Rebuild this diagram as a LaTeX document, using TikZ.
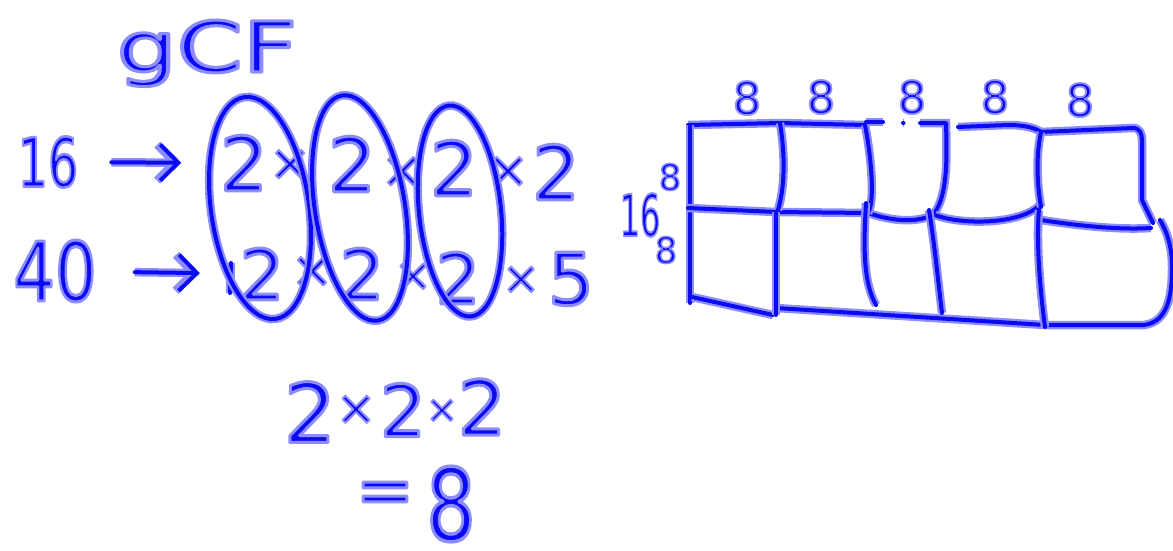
\documentclass[tikz,border=0pt]{standalone}
\usepackage{fontspec}
\setmainfont{DejaVu Sans}
\usetikzlibrary{arrows.meta}
\definecolor{inkblue}{RGB}{10,10,245}
\definecolor{glow}{RGB}{140,140,255}
\newcommand{\inktext}[2][3]{{\color{inkblue}\special{pdf:literal direct 0.55 0.55 1 RG #1 w 1 j 2 Tr}#2}}
\newcommand{\fs}[1]{\fontsize{#1}{#1}\selectfont}
\tikzset{
  pen/.style={draw=inkblue, line width=4pt, line cap=round, line join=round,
    preaction={draw=glow, line width=8.5pt}},
  txt/.style={inner sep=0pt, outer sep=0pt},
  tight/.style={inner xsep=-6pt},
  arr/.style={pen, -{Straight Barb[length=18pt, width=36pt]}}
}
\begin{document}
\begin{tikzpicture}[x=1pt, y=-1pt]
\useasboundingbox (0,0) rectangle (1173,551);
% title
\node[txt, font=\fs{70}, anchor=base] (title) at (207,72) {\scalebox{1.35}[1]{\inktext{gCF}}};
% row 1
\node[txt, font=\fs{68}] (n16) at (48,162) {\scalebox{0.7}[1]{\inktext[2.6]{16}}};
\node[txt, tight, font=\fs{75}] (r1a) at (244,163) {\inktext{2}};
\node[txt, tight, font=\fs{50}] (r1x1) at (290,165) {\inktext[2]{×}};
\node[txt, tight, font=\fs{75}] (r1b) at (352,164) {\inktext{2}};
\node[txt, tight, font=\fs{50}] (r1x2) at (402,172) {\inktext[2]{×}};
\node[txt, tight, font=\fs{75}] (r1c) at (454,168) {\inktext{2}};
\node[txt, tight, font=\fs{50}] (r1x3) at (508,172) {\inktext[2]{×}};
\node[txt, tight, font=\fs{75}] (r1d) at (556,172) {\inktext{2}};
\draw[arr, shorten <=33pt, shorten >=45pt] (n16) -- (r1a);
% row 2
\node[txt, font=\fs{82}] (n40) at (55,271) {\scalebox{0.8}[1]{\inktext{40}}};
\node[txt, tight, font=\fs{70}] (r2a) at (262,274) {\inktext{2}};
\node[txt, tight, font=\fs{50}] (r2x1) at (312,272) {\inktext[2]{×}};
\node[txt, tight, font=\fs{70}] (r2b) at (362,274) {\inktext{2}};
\node[txt, tight, font=\fs{45}] (r2x2) at (413,277) {\inktext[2]{×}};
\node[txt, tight, font=\fs{70}] (r2c) at (458,278) {\inktext{2}};
\node[txt, tight, font=\fs{45}] (r2x3) at (521,280) {\inktext[2]{×}};
\node[txt, tight, font=\fs{72}] (r2d) at (571,279) {\inktext{5}};
\draw[arr, shorten <=38pt, shorten >=46pt] (n40) -- (r2a);
\draw[pen] (231,263) -- (230,293);
% ellipses
\draw[pen, rotate around={8:(260,208)}] (260,208) ellipse [x radius=49, y radius=112];
\draw[pen, rotate around={9:(360,208)}] (360,208) ellipse [x radius=45, y radius=114];
\draw[pen, rotate around={6:(460,211)}] (460,211) ellipse [x radius=41, y radius=106];
% result
\node[txt, tight, font=\fs{82}] (b1) at (310,412) {\inktext{2}};
\node[txt, tight, font=\fs{48}] (b2) at (356,410) {\inktext[2]{×}};
\node[txt, tight, font=\fs{72}] (b3) at (403,410) {\inktext{2}};
\node[txt, tight, font=\fs{38}] (b4) at (442,411) {\inktext[1.8]{×}};
\node[txt, tight, font=\fs{76}] (b5) at (482,407) {\inktext{2}};
\node[txt, font=\fs{70}] (eq) at (385,498) {\inktext{=}};
\node[txt, font=\fs{100}] (eight) at (451,504) {\scalebox{0.78}[1]{\inktext[3.5]{8}}};
% grid labels
\node[txt, font=\fs{45}] (t1) at (747,98) {\inktext[1.8]{8}};
\node[txt, font=\fs{45}] (t2) at (821,97) {\inktext[1.8]{8}};
\node[txt, font=\fs{45}] (t3) at (912,97) {\inktext[1.8]{8}};
\node[txt, font=\fs{45}] (t4) at (995,97) {\inktext[1.8]{8}};
\node[txt, font=\fs{45}] (t5) at (1080,100) {\inktext[1.8]{8}};
\node[txt, font=\fs{36}] (l1) at (670,177) {\inktext[1.5]{8}};
\node[txt, font=\fs{58}] (l2) at (640,215) {\scalebox{0.55}[1]{\inktext[2]{16}}};
\node[txt, font=\fs{36}] (l3) at (666,250) {\inktext[1.5]{8}};
% grid
\draw[pen] (688,125) -- (780,123) -- (865,125);
\draw[pen] (866,122) -- (883,122);
\draw[pen] (903,123) -- (903.5,123);
\draw[pen] (920,123) -- (946,123) .. controls (947,160) and (948,200) .. (931,217);
\draw[pen] (958,127) -- (1008,125) .. controls (1025,125) and (1035,128) .. (1041,132) -- (1133,128) .. controls (1140,128) and (1142,134) .. (1142,140) -- (1142,200) -- (1153,223);
\draw[pen] (690,125) -- (690,303);
\draw[pen] (692,297) -- (773,315);
\draw[pen] (776,308) -- (1045,325) -- (1144,325) .. controls (1170,322) and (1172,290) .. (1172,267) .. controls (1172,245) and (1166,230) .. (1160,220);
\draw[pen] (688,208) -- (776,212) -- (868,213) .. controls (895,222) and (915,222) .. (931,216);
\draw[pen] (935,215) .. controls (960,225) and (1020,225) .. (1040,205);
\draw[pen] (1041,220) .. controls (1080,226) and (1120,230) .. (1151,228);
\draw[pen] (780,123) .. controls (786,160) and (784,190) .. (778,210);
\draw[pen] (776,212) -- (776,315);
\draw[pen] (865,125) .. controls (870,150) and (876,200) .. (868,213);
\draw[pen] (866,203) .. controls (864,240) and (862,280) .. (876,305);
\draw[pen] (929,210) .. controls (934,240) and (938,280) .. (942,313);
\draw[pen] (1041,132) .. controls (1035,160) and (1038,190) .. (1041,207);
\draw[pen] (1039,210) .. controls (1036,240) and (1040,290) .. (1045,327);
\end{tikzpicture}
\end{document}
